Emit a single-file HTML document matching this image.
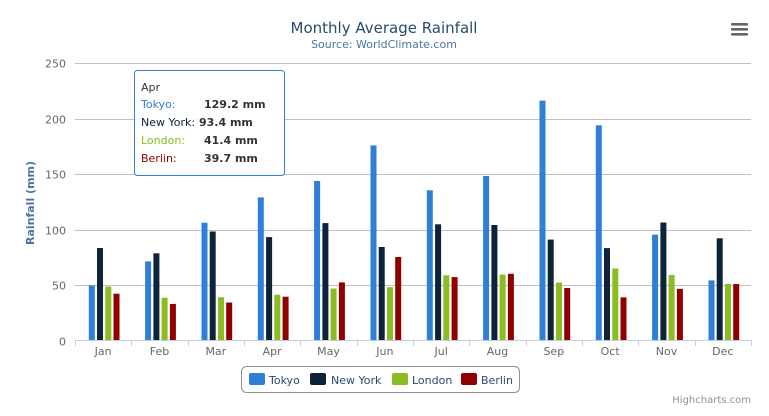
<!DOCTYPE html>
<html><head><meta charset="utf-8"><style>
html,body{margin:0;padding:0;background:#fff;}
svg{display:block;font-family:"DejaVu Sans","Liberation Sans",sans-serif;}
</style></head><body>
<svg id="c" width="769" height="416" xmlns="http://www.w3.org/2000/svg">
<rect width="769" height="416" fill="#fff"/>
<text x="384" y="33" text-anchor="middle" font-size="15" fill="#274b6d">Monthly Average Rainfall</text>
<text x="384" y="48" text-anchor="middle" font-size="11" fill="#4d759e">Source: WorldClimate.com</text>
<g fill="#666"><rect x="731" y="23" width="17" height="2.6" rx="1"/><rect x="731" y="28" width="17" height="2.6" rx="1"/><rect x="731" y="33" width="17" height="2.6" rx="1"/></g>
<g id="grid" stroke="#c0c0c0" stroke-width="1"></g>
<text transform="translate(34,203) rotate(-90)" text-anchor="middle" font-size="11" font-weight="bold" fill="#4d759e">Rainfall (mm)</text>
<g id="bars"></g>
<line x1="75" y1="340.5" x2="751" y2="340.5" stroke="#c0d0e0"/>
<g id="xl" font-size="11" fill="#666" text-anchor="middle"></g>
<rect x="241.5" y="366.5" width="278" height="26" rx="5" fill="#fff" stroke="#909090"/>
<g font-size="11" fill="#274b6d">
<rect x="249" y="373" width="16" height="12" rx="2" fill="#2f7ed8"/><text x="269" y="384">Tokyo</text>
<rect x="310" y="373" width="16" height="12" rx="2" fill="#0d233a"/><text x="331" y="384">New York</text>
<rect x="392" y="373" width="16" height="12" rx="2" fill="#8bbc21"/><text x="412" y="384">London</text>
<rect x="461" y="373" width="16" height="12" rx="2" fill="#910000"/><text x="481" y="384">Berlin</text>
</g>
<text x="751" y="403" text-anchor="end" font-size="10" fill="#909090">Highcharts.com</text>
<rect x="134.5" y="70.5" width="150" height="105" rx="3" fill="#fff" fill-opacity="0.95" stroke="#2f7ed8"/>
<g font-size="11">
<text x="141" y="91" fill="#333">Apr</text>
<text x="141" y="108" fill="#2f7ed8">Tokyo:</text><text x="204" y="108" font-weight="bold" fill="#333">129.2 mm</text>
<text x="141" y="126" fill="#0d233a">New York:</text><text x="199" y="126" font-weight="bold" fill="#333">93.4 mm</text>
<text x="141" y="144" fill="#8bbc21">London:</text><text x="204" y="144" font-weight="bold" fill="#333">41.4 mm</text>
<text x="141" y="162" fill="#910000">Berlin:</text><text x="204" y="162" font-weight="bold" fill="#333">39.7 mm</text>
</g>
</svg>
<script>
var NS="http://www.w3.org/2000/svg";
function el(p,t,a,txt){var e=document.createElementNS(NS,t);for(var k in a)e.setAttribute(k,a[k]);if(txt)e.textContent=txt;document.getElementById(p).appendChild(e);return e;}
var y0=340.8,s=1.11;
for(var v=0;v<=250;v+=50){var y=Math.round(y0-v*s)+0.5;if(v>0)el("grid","line",{x1:75,x2:751,y1:y,y2:y});
el("xl","text",{x:66,y:y+4,"text-anchor":"end"},String(v));}
var d=[[49.9,71.5,106.4,129.2,144.0,176.0,135.6,148.5,216.4,194.1,95.6,54.4],[83.6,78.8,98.5,93.4,106.0,84.5,105.0,104.3,91.2,83.5,106.6,92.3],[48.9,38.8,39.3,41.4,47.0,48.3,59.0,59.6,52.4,65.2,59.3,51.2],[42.4,33.2,34.5,39.7,52.6,75.5,57.4,60.4,47.6,39.1,46.8,51.1]];
var col=["#2f7ed8","#0d233a","#8bbc21","#910000"];
var m=["Jan","Feb","Mar","Apr","May","Jun","Jul","Aug","Sep","Oct","Nov","Dec"];
var w=676/12;
for(var i=0;i<12;i++){var x0=75+i*w;
for(var k=0;k<4;k++){var h=d[k][i]*s;el("bars","rect",{x:(x0+13.8+k*8.25).toFixed(1),y:(y0-h).toFixed(1),width:6,height:h.toFixed(1),fill:col[k]});}
el("xl","text",{x:x0+w/2,y:355},m[i]);}
for(var i=0;i<=12;i++){var x=Math.round(75+i*w)+0.5;el("xl","line",{x1:x,x2:x,y1:340,y2:346,stroke:"#c0d0e0"});}
</script>
</body></html>
